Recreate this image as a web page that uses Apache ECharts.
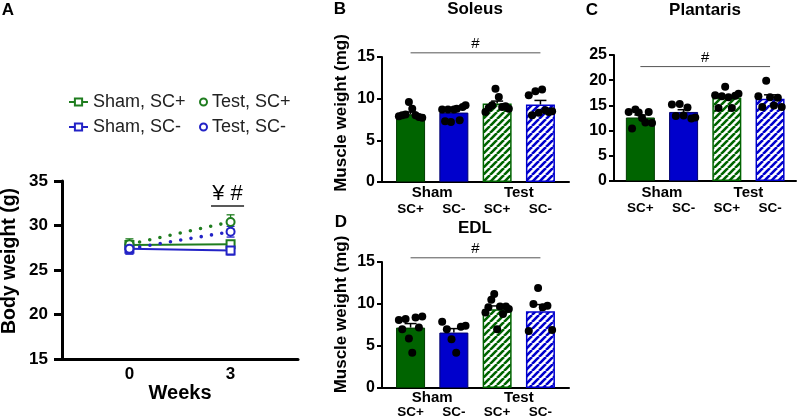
<!DOCTYPE html>
<html><head><meta charset="utf-8">
<script src="https://cdn.jsdelivr.net/npm/echarts@6/dist/echarts.min.js"></script>
<style>html,body{margin:0;padding:0;background:#fff}#c{width:800px;height:419px}</style>
</head><body><div id="c"></div>
<script>
// ---------- Panel A: body weight ----------
const weeks = [0, 3];
const weekLabels = ['0', '3'];
const bwShamPlus = [27.8, 27.9];
const bwShamPlusSem = [0.5, 0.4];
const bwShamMinus = [27.4, 27.2];
const bwShamMinusSem = [0.6, 0.5];
const bwTestPlus = [27.9, 30.4];
const bwTestPlusSem = [0.6, 0.8];
const bwTestMinus = [27.4, 29.3];
const bwTestMinusSem = [0.6, 0.6];
const bwSig = [2.42, 3.4, 32.2];   // x0, x1, y of the "¥ #" bracket

// ---------- Bar panels ----------
const groupLabels = ['Sham', 'Test'];
const groupPos = [0.5, 2.5];
const subLabels = ['SC+', 'SC-', 'SC+', 'SC-'];

const soleusMean = [8.12, 8.33, 9.41, 9.29];
const soleusSem = [0.28, 0.25, 0.3, 0.5];
const soleusDots = [
  [7.9, 8.0, 8.1, 9.6, 8.8, 8.0, 7.8, 7.7],
  [8.7, 7.3, 8.7, 7.2, 8.7, 8.8, 7.4, 9.0, 9.2],
  [8.4, 8.9, 9.2, 11.2, 10.2, 9.0, 9.1, 8.8],
  [10.4, 8.0, 10.9, 8.3, 11.1, 8.6, 8.4, 8.5]
];
const soleusSig = [0, 3, 15.5];

const plantarisMean = [12.6, 13.7, 16.5, 16.3];
const plantarisSem = [0.5, 0.45, 0.4, 0.8];
const plantarisDots = [
  [13.7, 10.4, 14.2, 13.6, 12.5, 11.6, 13.7, 11.5],
  [15.2, 12.9, 15.3, 13.0, 14.6, 12.4, 12.6],
  [17.0, 14.5, 16.8, 18.7, 16.6, 14.5, 16.9, 17.3],
  [16.8, 14.7, 19.9, 16.6, 15.0, 16.5, 14.7]
];
const plantarisSig = [0, 3, 22.7];

const edlMean = [7.19, 6.6, 9.37, 9.13];
const edlSem = [0.48, 0.47, 0.4, 0.8];
const edlDots = [
  [8.1, 7.0, 8.2, 5.9, 4.2, 8.4, 7.2, 8.5],
  [7.9, 7.0, 5.8, 4.2, 7.3, 7.4],
  [9.0, 9.6, 10.5, 11.2, 7.0, 9.7, 8.8, 9.7, 9.4],
  [6.8, 10.0, 11.9, 9.6, 9.8, 6.9]
];
const edlSig = [0, 3, 15.5];

// ---------- styling ----------
const FONT = 'Liberation Sans, Arial, sans-serif';
const GREEN_L = '#1f7d1f', BLUE_L = '#2323c6';
const GREEN_B = '#006400', BLUE_B = '#0000cc';
const SPREAD = 0.27;

function hatch(color) {
  const s = 7;
  const c = document.createElement('canvas'); c.width = s; c.height = s;
  const ctx = c.getContext('2d');
  ctx.fillStyle = '#fff'; ctx.fillRect(0, 0, s, s);
  ctx.strokeStyle = color; ctx.lineWidth = 2.6;
  ctx.beginPath();
  [-s, 0, s].forEach(o => { ctx.moveTo(o, s); ctx.lineTo(o + s, 0); });
  ctx.stroke();
  return c;
}
const barStyles = [
  { color: GREEN_B, borderColor: '#003a00', borderWidth: 1 },
  { color: BLUE_B, borderColor: '#00006e', borderWidth: 1 },
  { color: { image: hatch(GREEN_B), repeat: 'repeat' }, borderColor: GREEN_B, borderWidth: 1.5 },
  { color: { image: hatch(BLUE_B), repeat: 'repeat' }, borderColor: BLUE_B, borderWidth: 1.5 }
];

const chart = echarts.init(document.getElementById('c'), null, { renderer: 'canvas' });

function lineSeries(name, vals, color, dotted, symbol) {
  return {
    type: 'line', name, xAxisIndex: 0, yAxisIndex: 0,
    data: weeks.map((w, i) => [w, vals[i]]),
    symbol, symbolSize: 8, z: 4, silent: true,
    itemStyle: { color, borderColor: color, borderWidth: 1.5 },
    lineStyle: dotted ? { color, width: 3.6, type: [0, 10.4], cap: 'round' } : { color, width: 2 }
  };
}
function errSeries(xs, means, sems, color, xi, yi, cap, both, lw) {
  return {
    type: 'custom', xAxisIndex: xi, yAxisIndex: yi, silent: true, z: 3,
    data: xs.map((x, i) => [x, means[i], sems[i]]),
    encode: { x: 0, y: 1 },
    renderItem(params, api) {
      const x = api.value(0), m = api.value(1), s = api.value(2);
      const pt = api.coord([x, m + s]);
      const pb = api.coord([x, both ? m - s : m]);
      const st = { stroke: color, lineWidth: lw };
      const ch = [
        { type: 'line', shape: { x1: pt[0], y1: pt[1], x2: pb[0], y2: pb[1] }, style: st },
        { type: 'line', shape: { x1: pt[0] - cap, y1: pt[1], x2: pt[0] + cap, y2: pt[1] }, style: st }
      ];
      if (both) ch.push({ type: 'line', shape: { x1: pb[0] - cap, y1: pb[1], x2: pb[0] + cap, y2: pb[1] }, style: st });
      return { type: 'group', children: ch };
    }
  };
}
function sigSeries(sig, text, xi, yi, fontSize, lw, color) {
  return {
    type: 'custom', xAxisIndex: xi, yAxisIndex: yi, silent: true, z: 6, clip: false,
    data: [sig], encode: { x: [0, 1], y: 2 },
    renderItem(params, api) {
      const p0 = api.coord([api.value(0), api.value(2)]);
      const p1 = api.coord([api.value(1), api.value(2)]);
      return { type: 'group', children: [
        { type: 'line', shape: { x1: p0[0], y1: p0[1], x2: p1[0], y2: p1[1] }, style: { stroke: color, lineWidth: lw } },
        { type: 'text', x: (p0[0] + p1[0]) / 2, y: p0[1] - 1,
          style: { text, fontSize, fontFamily: FONT, fill: '#000', align: 'center', verticalAlign: 'bottom' } }
      ] };
    }
  };
}
function barSeries(means, xi, yi) {
  return { type: 'bar', xAxisIndex: xi, yAxisIndex: yi, barWidth: 29, silent: true, z: 2,
    data: means.map((m, i) => ({ value: [i, m], itemStyle: barStyles[i] })) };
}
function dotSeries(groups, xi, yi) {
  const data = [];
  groups.forEach((vals, g) => {
    const n = vals.length;
    vals.forEach((v, i) => data.push([g + (n > 1 ? -SPREAD + 2 * SPREAD * i / (n - 1) : 0), v]));
  });
  return { type: 'scatter', xAxisIndex: xi, yAxisIndex: yi, data, symbolSize: 8, silent: true, z: 5,
    itemStyle: { color: '#000', opacity: 1 } };
}
function barXAxes(gridIndex, min, max, m1, m2) {
  const common = { type: 'value', gridIndex, min, max, position: 'bottom', offset: 0,
    axisTick: { show: false }, splitLine: { show: false } };
  return [
    Object.assign({}, common, {
      axisLine: { show: true, onZero: false, lineStyle: { color: '#000', width: 2 } },
      axisLabel: { customValues: groupPos, formatter: v => groupLabels[groupPos.indexOf(v)],
        margin: m1, fontSize: 15, fontWeight: 'bold', color: '#000', fontFamily: FONT }
    }),
    Object.assign({}, common, {
      axisLine: { show: false, onZero: false },
      axisLabel: { customValues: [0, 1, 2, 3], formatter: v => subLabels[v],
        margin: m2, fontSize: 13.5, fontWeight: 'bold', color: '#000', fontFamily: FONT }
    })
  ];
}
function barYAxis(gridIndex, max, name, pad) {
  return { type: 'value', gridIndex, min: 0, max, interval: 5,
    axisLine: { show: true, onZero: false, lineStyle: { color: '#000', width: 2 } },
    axisTick: { show: true, length: 5, lineStyle: { width: 2, color: '#000' } },
    axisLabel: { margin: 7, fontSize: 16, fontWeight: 'bold', color: '#000', fontFamily: FONT },
    splitLine: { show: false },
    name, nameLocation: 'middle', nameGap: 32,
    nameTextStyle: { fontSize: 17, fontWeight: 'bold', color: '#000', fontFamily: FONT, padding: [0, 0, 0, pad] } };
}

const gridBase = { containLabel: false, outerBoundsMode: 'none' };
const option = {
  animation: false,
  backgroundColor: '#fff',
  textStyle: { fontFamily: FONT },
  grid: [
    Object.assign({ left: 62, top: 181, width: 236, height: 178 }, gridBase),
    Object.assign({ left: 382, top: 57, width: 187, height: 125 }, gridBase),
    Object.assign({ left: 614, top: 55, width: 182, height: 126 }, gridBase),
    Object.assign({ left: 382, top: 262, width: 187, height: 126 }, gridBase)
  ],
  legend: [
    { data: ['Sham, SC+', 'Sham, SC-'], orient: 'vertical', left: 63, top: 88, itemWidth: 19, itemHeight: 9,
      itemGap: 7, selectedMode: false, textStyle: { fontSize: 18, color: '#222', fontFamily: FONT } },
    { data: [{ name: 'Test, SC+', icon: 'emptyCircle' }, { name: 'Test, SC-', icon: 'emptyCircle' }],
      orient: 'vertical', left: 194, top: 88, itemWidth: 7, itemHeight: 7,
      itemGap: 7, selectedMode: false, textStyle: { fontSize: 18, color: '#222', fontFamily: FONT } }
  ],
  xAxis: [
    { type: 'value', gridIndex: 0, min: -2, max: 5,
      axisLine: { show: true, onZero: false, lineStyle: { color: '#000', width: 3 } },
      axisTick: { show: false }, splitLine: { show: false },
      axisLabel: { customValues: weeks, formatter: v => weekLabels[weeks.indexOf(v)], margin: 7,
        fontSize: 17, fontWeight: 'bold', color: '#000', fontFamily: FONT },
      name: 'Weeks', nameLocation: 'middle', nameGap: 23,
      nameTextStyle: { fontSize: 20, fontWeight: 'bold', color: '#000', fontFamily: FONT } },
    ...barXAxes(1, -0.66, 3.66, 3, 20),
    ...barXAxes(2, -0.61, 3.6, 4, 20),
    ...barXAxes(3, -0.66, 3.66, 2, 17)
  ],
  yAxis: [
    { type: 'value', gridIndex: 0, min: 15, max: 35, interval: 5,
      axisLine: { show: true, onZero: false, lineStyle: { color: '#000', width: 3 } },
      axisTick: { show: true, length: 8, lineStyle: { width: 3, color: '#000' } },
      axisLabel: { margin: 14, fontSize: 17, fontWeight: 'bold', color: '#000', fontFamily: FONT },
      splitLine: { show: false },
      name: 'Body weight (g)', nameLocation: 'middle', nameGap: 42,
      nameTextStyle: { fontSize: 19.5, fontWeight: 'bold', color: '#000', fontFamily: FONT, padding: [0, 0, 0, 18] } },
    barYAxis(1, 15, 'Muscle weight (mg)', 13),
    barYAxis(2, 25, '', 0),
    barYAxis(3, 15, 'Muscle weight (mg)', 21)
  ],
  graphic: [
    { type: 'text', x: 8, y: 10, style: { text: 'A', fontSize: 17, fontWeight: 'bold', fontFamily: FONT, fill: '#000', align: 'center', verticalAlign: 'middle' } },
    { type: 'text', x: 340, y: 9, style: { text: 'B', fontSize: 17, fontWeight: 'bold', fontFamily: FONT, fill: '#000', align: 'center', verticalAlign: 'middle' } },
    { type: 'text', x: 592, y: 10, style: { text: 'C', fontSize: 17, fontWeight: 'bold', fontFamily: FONT, fill: '#000', align: 'center', verticalAlign: 'middle' } },
    { type: 'text', x: 341, y: 222, style: { text: 'D', fontSize: 17, fontWeight: 'bold', fontFamily: FONT, fill: '#000', align: 'center', verticalAlign: 'middle' } },
    { type: 'text', x: 475, y: 9, style: { text: 'Soleus', fontSize: 17, fontWeight: 'bold', fontFamily: FONT, fill: '#000', align: 'center', verticalAlign: 'middle' } },
    { type: 'text', x: 705, y: 10, style: { text: 'Plantaris', fontSize: 17, fontWeight: 'bold', fontFamily: FONT, fill: '#000', align: 'center', verticalAlign: 'middle' } },
    { type: 'text', x: 475, y: 228, style: { text: 'EDL', fontSize: 17, fontWeight: 'bold', fontFamily: FONT, fill: '#000', align: 'center', verticalAlign: 'middle' } }
  ],
  series: [
    errSeries(weeks, bwShamPlus, bwShamPlusSem, GREEN_L, 0, 0, 4, true, 1.3),
    errSeries(weeks, bwShamMinus, bwShamMinusSem, BLUE_L, 0, 0, 4, true, 1.3),
    errSeries(weeks, bwTestPlus, bwTestPlusSem, GREEN_L, 0, 0, 4, true, 1.3),
    errSeries(weeks, bwTestMinus, bwTestMinusSem, BLUE_L, 0, 0, 4, true, 1.3),
    lineSeries('Sham, SC+', bwShamPlus, GREEN_L, false, 'emptyRect'),
    lineSeries('Sham, SC-', bwShamMinus, BLUE_L, false, 'emptyRect'),
    lineSeries('Test, SC+', bwTestPlus, GREEN_L, true, 'emptyCircle'),
    lineSeries('Test, SC-', bwTestMinus, BLUE_L, true, 'emptyCircle'),
    sigSeries(bwSig, '¥ #', 0, 0, 22, 1.5, '#222'),

    barSeries(soleusMean, 1, 1),
    errSeries([0, 1, 2, 3], soleusMean, soleusSem, '#000', 1, 1, 6, false, 1.5),
    dotSeries(soleusDots, 1, 1),
    sigSeries(soleusSig, '#', 1, 1, 15, 1, '#555'),

    barSeries(plantarisMean, 3, 2),
    errSeries([0, 1, 2, 3], plantarisMean, plantarisSem, '#000', 3, 2, 6, false, 1.5),
    dotSeries(plantarisDots, 3, 2),
    sigSeries(plantarisSig, '#', 3, 2, 15, 1, '#555'),

    barSeries(edlMean, 5, 3),
    errSeries([0, 1, 2, 3], edlMean, edlSem, '#000', 5, 3, 6, false, 1.5),
    dotSeries(edlDots, 5, 3),
    sigSeries(edlSig, '#', 5, 3, 15, 1, '#555')
  ]
};
chart.setOption(option);
</script></body></html>
